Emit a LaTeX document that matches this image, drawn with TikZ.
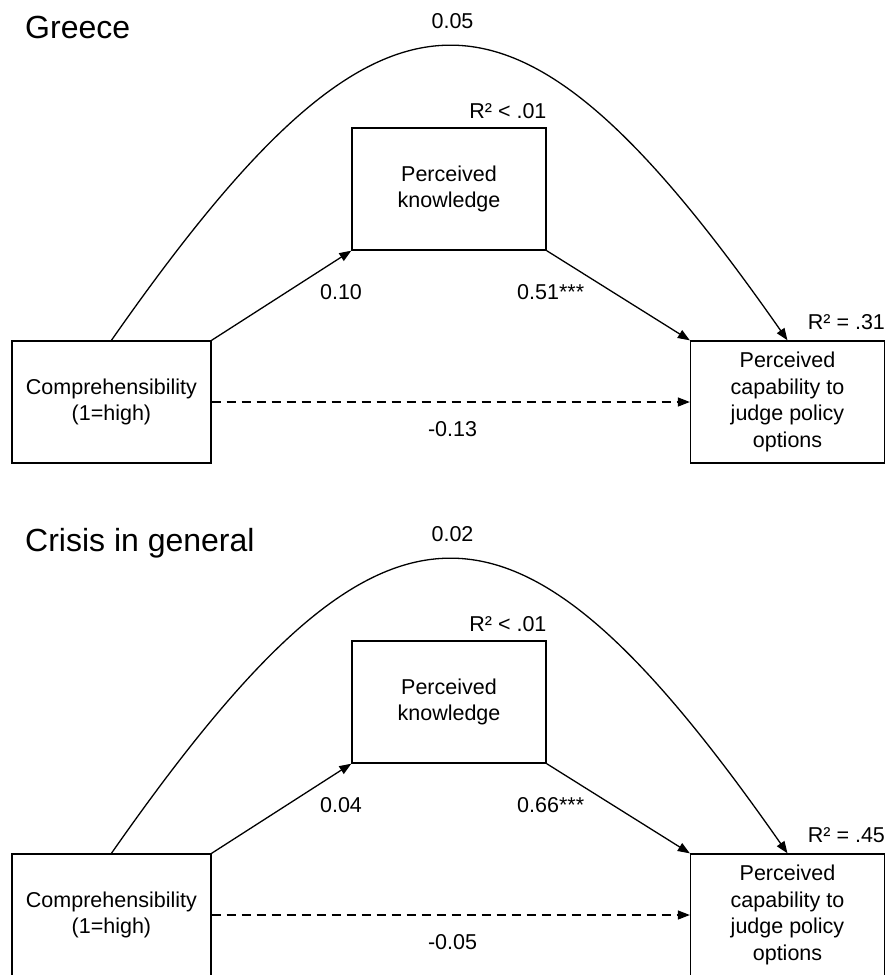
\documentclass[tikz,border=0pt]{standalone}
\usepackage{fontspec}
\setmainfont{Liberation Sans}
\usetikzlibrary{arrows.meta}

\tikzset{
  varbox/.style={draw, line width=1.3pt, minimum height=122pt, align=center, inner sep=0pt},
  coef/.style={inner sep=0pt},
  link/.style={line width=1.3pt, -{Triangle[length=12pt,width=9pt]}},
}

\begin{document}
\begin{tikzpicture}[x=1pt,y=-1pt,font=\fontsize{21.5}{26.7}\selectfont]
	\useasboundingbox (0,0) rectangle (889,975);

	% one panel per sample, the second one 513 lower
	\foreach \panely/\ttl/\ab/\bc/\ac/\acc/\rr in {0/Greece/0.10/0.51***/-0.13/0.05/.31, 513/Crisis in general/0.04/0.66***/-0.05/0.02/.45}{
		\node[coef,anchor=base west,font=\fontsize{32}{38}\selectfont] (title) at (25,38+\panely) {\ttl};

		\node[varbox,minimum width=199pt] (comp) at (111.4,402+\panely) {Comprehensibility\\(1=high)};
		\node[varbox,minimum width=194pt] (know) at (449,189+\panely) {Perceived\\knowledge};
		\node[varbox,minimum width=194pt] (cap) at (787.5,402+\panely) {Perceived\\capability to\\judge policy\\options};

		\node[coef,anchor=base east] (r2know) at ([yshift=8.4pt]know.north east) {R² < .01};
		\node[coef,anchor=base east] (r2cap) at ([yshift=11pt]cap.north east) {R² = \rr};

		\draw[link] (comp.north east) -- (know.south west);
		\draw[link] (know.south east) -- (cap.north west);
		\draw[link,dash pattern=on 9pt off 6pt] (comp.east) -- (cap.west);
		\draw[link] (comp.north) .. controls +(274,-392) and +(-274,-392) .. (cap.north);

		\node[coef,anchor=base] (pa) at (341,299+\panely) {\ab};
		\node[coef,anchor=base] (pb) at (550.7,299+\panely) {\bc};
		\node[coef,anchor=base] (pc) at (452.5,436+\panely) {\ac};
		\node[coef,anchor=base] (pd) at (452.5,28.3+\panely) {\acc};
	}
\end{tikzpicture}
\end{document}
